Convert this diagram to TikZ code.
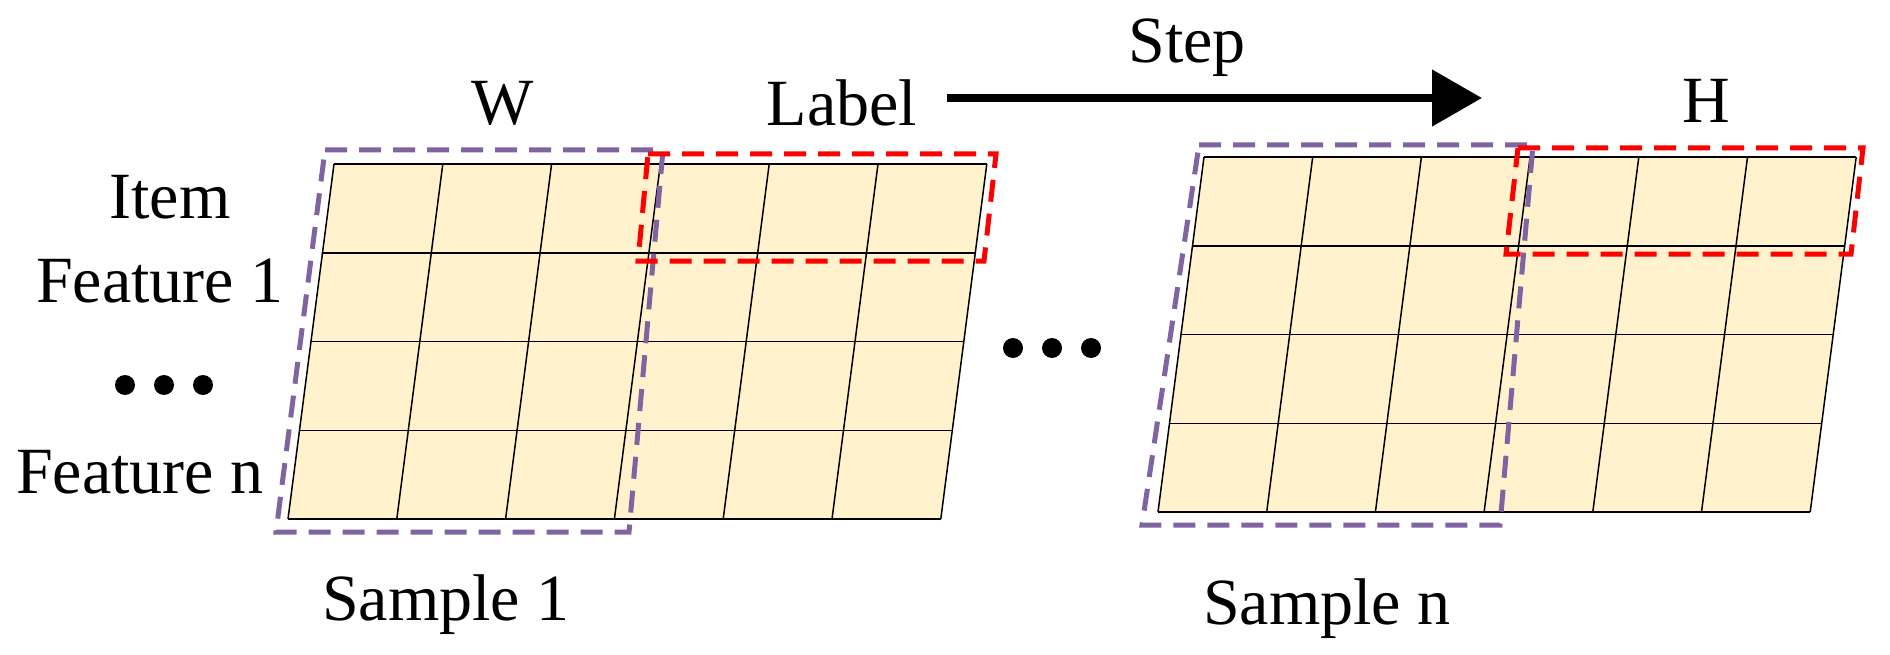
\documentclass[tikz,border=0pt]{standalone}
\usepackage{fontspec}
\usetikzlibrary{arrows.meta}
\setmainfont{Liberation Serif}
\definecolor{cream}{HTML}{FFF2CC}
\definecolor{purp}{HTML}{8064A2}
\begin{document}
\begin{tikzpicture}[x=1pt,y=-1pt,
  lbl/.style={font=\fontsize{66}{72}\selectfont, inner sep=0pt},
  pbox/.style={draw=purp,dash pattern=on 22pt off 12pt,line width=5pt},
  rbox/.style={draw=red,dash pattern=on 22pt off 12pt,line width=5pt},
  gridl/.style={draw=black,line width=1.5pt},
  dot/.style={circle,fill=black,minimum size=20pt,inner sep=0pt}]
\useasboundingbox (0,0) rectangle (1890,655);
% grid 1
\fill[cream] (334,164)--(987,164)--(941,519)--(288,519)--cycle;
\foreach \r in {0,1,2,3,4}{
  \draw[gridl] ({334-46*\r/4},{164+88.75*\r}) -- ({987-46*\r/4},{164+88.75*\r});}
\foreach \c in {0,...,6}{
  \draw[gridl] ({334+108.8*\c},164) -- ({288+108.8*\c},519);}
% grid 2
\fill[cream] (1204,157)--(1856,157)--(1810,512)--(1158,512)--cycle;
\foreach \r in {0,1,2,3,4}{
  \draw[gridl] ({1204-46*\r/4},{157+88.75*\r}) -- ({1856-46*\r/4},{157+88.75*\r});}
\foreach \c in {0,...,6}{
  \draw[gridl] ({1204+108.7*\c},157) -- ({1158+108.7*\c},512);}
% dashed boxes
\draw[pbox] (325,150)--(663,150)--(629,532)--(276,532)--cycle;
\draw[rbox] (648,154)--(996,154)--(984,261)--(638,261)--cycle;
\draw[pbox] (1199,145)--(1533,145)--(1500,525)--(1142,525)--cycle;
\draw[rbox] (1518,148)--(1863,148)--(1851,254)--(1506,254)--cycle;
% labels
\node[lbl] (w) at (503,103) {W};
\node[lbl] (label) at (842,103) {Label};
\node[lbl] (step) at (1187,48) {Step};
\node[lbl] (h) at (1706,101) {H};
\coordinate (as) at (947,98);
\coordinate (ae) at (1482,98);
\draw[line width=8pt,-{Triangle[length=50pt,width=55pt]}] (as) -- (ae);
\node[lbl] (item) at (170,197) {Item};
\node[lbl] (f1) at (160,281) {Feature 1};
\node[lbl] (fn) at (140,472) {Feature n};
\node[lbl] (s1) at (446,605) {Sample 1};
\node[lbl] (sn) at (1327,609) {Sample n};
\foreach \i in {-1,0,1}{
  \node[dot] (ld\i) at ({164+39*\i},385) {};
  \node[dot] (md\i) at ({1052+39*\i},348) {};}
\end{tikzpicture}
\end{document}
